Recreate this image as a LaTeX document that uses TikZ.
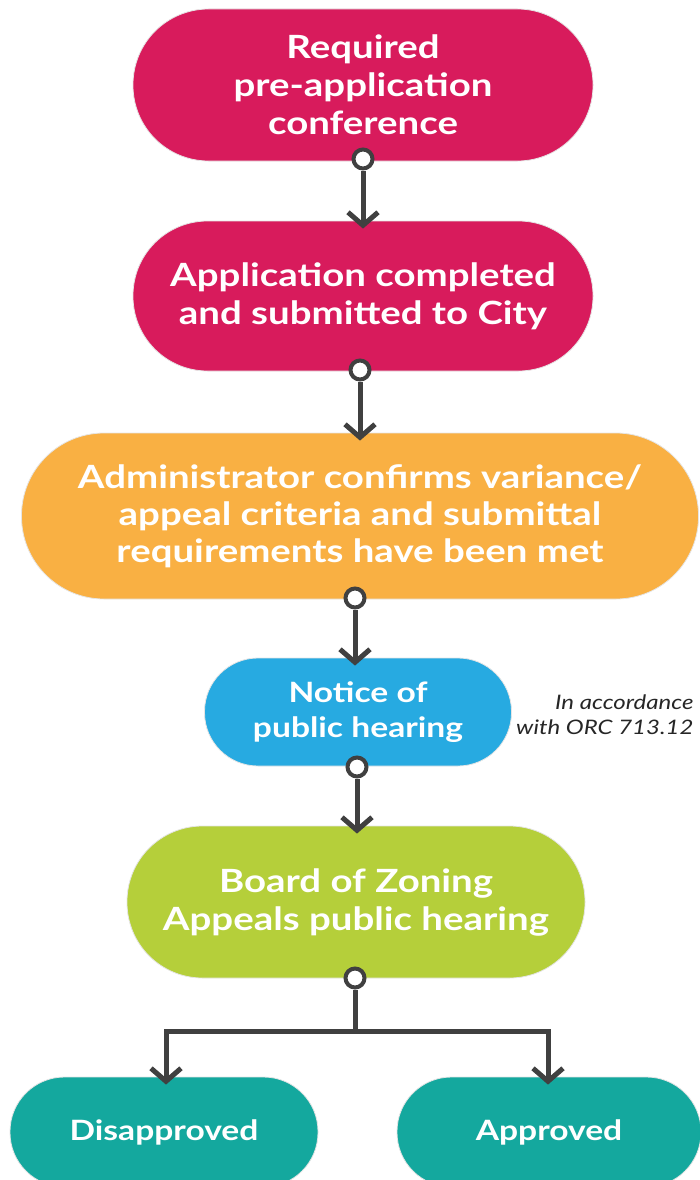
\documentclass[tikz,border=0pt]{standalone}
\usepackage{fontspec}
\setmainfont{Lato}[FakeStretch=1.2]
\usetikzlibrary{arrows.meta}
\definecolor{stagepink}{RGB}{216,27,92}
\definecolor{stageorange}{RGB}{249,176,67}
\definecolor{stageblue}{RGB}{39,170,225}
\definecolor{stagegreen}{RGB}{181,207,58}
\definecolor{stageteal}{RGB}{20,168,158}
\definecolor{linkgray}{RGB}{64,64,64}
\begin{document}
\begin{tikzpicture}[x=1pt,y=-1pt,
  stage/.style 2 args={fill=#1, draw=black!10, line width=0.8pt,
    minimum width=#2, text=white, align=center, inner sep=0pt,
    font=\bfseries\fontsize{32}{38}\selectfont},
  tall/.style={minimum height=#1, rounded corners=#1/2-0.5pt},
  small/.style={font=\bfseries\fontsize{28}{35}\selectfont},
  knob/.style={circle, draw=linkgray, line width=4pt, fill=white,
    minimum size=19pt, inner sep=0pt},
  link/.style={draw=linkgray, line width=5pt},
  flow/.style={link, -{Straight Barb[length=13pt,width=30pt]}},
  note/.style={font=\itshape\fontsize{20}{25}\selectfont, align=right, text=black!85}
]
\useasboundingbox (0,0) rectangle (699,1180);

% process stages
\node[stage={stagepink}{460pt}, tall=152pt] (pre) at (363,85)
  {Required\\pre-application\\conference};
\node[stage={stagepink}{460pt}, tall=150pt] (sub) at (363,296)
  {Application completed\\and submitted to City};
\node[stage={stageorange}{677pt}, tall=166pt, font=\bfseries\fontsize{32}{37}\selectfont] (adm) at (360,516)
  {Administrator confirms variance/\\appeal criteria and submittal\\requirements have been met};
\node[stage={stageblue}{307pt}, tall=108pt, small] (ntc) at (358,712)
  {Notice of\\public hearing};
\node[stage={stagegreen}{458pt}, tall=152pt] (bza) at (356,902)
  {Board of Zoning\\Appeals public hearing};
\node[stage={stageteal}{308pt}, tall=110pt, small] (dis) at (164,1132) {Disapproved};
\node[stage={stageteal}{304pt}, tall=110pt, small] (apr) at (549,1132) {Approved};

\node[note, anchor=east] (orc) at (697,715) {In accordance\\with ORC 713.12};

% connectors leaving each stage
\node[knob] (k1) at (363,159) {};
\node[knob] (k2) at (360,370) {};
\node[knob] (k3) at (355,598) {};
\node[knob] (k4) at (357,767) {};
\node[knob] (k5) at (355,978) {};

\draw[flow] (k1) -- ([yshift=-8pt]k1 |- sub.north);
\draw[flow] (k2) -- ([yshift=-8pt]k2 |- adm.north);
\draw[flow] (k3) -- ([yshift=-8pt]k3 |- ntc.north);
\draw[flow] (k4) -- ([yshift=-8pt]k4 |- bza.north);

\coordinate (fork) at (355,1031);
\draw[link] (k5) -- (fork);
\draw[flow] (fork) -| ([xshift=2pt,yshift=-8pt]dis.north);
\draw[flow] (fork) -| ([xshift=-1pt,yshift=-8pt]apr.north);
\end{tikzpicture}
\end{document}
